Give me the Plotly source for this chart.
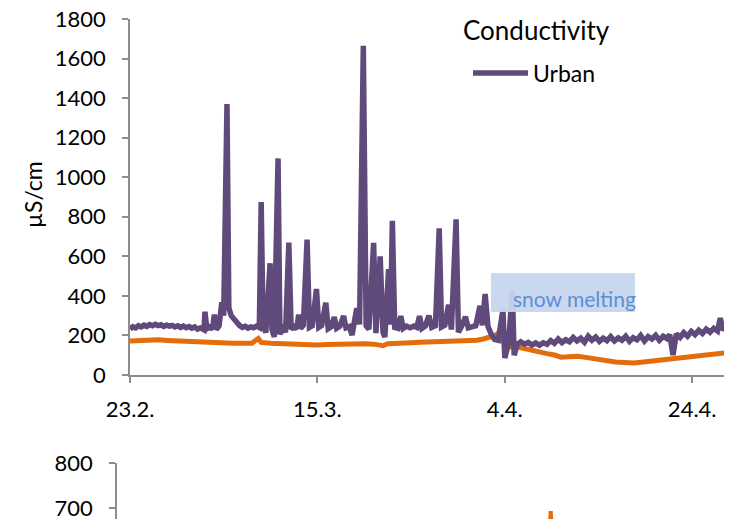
import pandas as pd
import plotly.graph_objects as go

START = pd.Timestamp("2013-02-23")

# Urban conductivity (days since 23.2., µS/cm)
urban_days = [0.0, 0.3, 0.6, 0.9, 1.2, 1.5, 1.8, 2.1, 2.4, 2.7, 3.0, 3.3, 3.6, 3.9, 4.2, 4.5, 4.8, 5.1,
              5.4, 5.7, 6.0, 6.3, 6.6, 6.9, 7.2, 7.5, 7.9, 8.0, 8.2, 8.5, 8.8, 9.0, 9.2, 9.5, 9.8, 10.0,
              10.35, 10.55, 10.8, 11.1, 11.4, 11.7, 12.0, 12.3, 12.6, 12.9, 13.2, 13.5, 13.8, 14.0, 14.2,
              14.5, 14.95, 15.15, 15.4, 15.8, 16.0, 16.3, 16.6, 16.95, 17.2, 17.5, 17.8, 18.0, 18.2, 18.5,
              18.9, 19.15, 19.45, 19.9, 20.15, 20.45, 20.9, 21.15, 21.5, 21.8, 22.05, 22.4, 22.8, 23.05,
              23.4, 23.7, 24.2, 24.5, 24.9, 25.2, 25.5, 26.0, 26.25, 26.7, 27.0, 27.2, 27.6, 27.8, 28.0,
              28.25, 28.6, 28.9, 29.15, 29.5, 29.9, 30.3, 30.6, 30.9, 31.15, 31.5, 31.9, 32.2, 32.6, 33.0,
              33.25, 33.6, 34.0, 34.3, 34.8, 35.05, 35.4, 35.8, 36.1, 36.5, 36.9, 37.35, 37.6, 37.9, 38.2,
              38.5, 38.9, 39.3, 39.8, 40.0, 40.4, 40.8, 41.0, 41.3, 41.7, 42.1, 42.5, 42.9, 43.3, 43.7,
              44.1, 44.5, 44.9, 45.3, 45.7, 46.1, 46.5, 46.9, 47.3, 47.7, 48.1, 48.5, 48.9, 49.3, 49.7,
              50.1, 50.5, 50.9, 51.3, 51.7, 52.1, 52.5, 52.9, 53.3, 53.7, 54.1, 54.5, 54.9, 55.3, 55.7,
              56.1, 56.5, 56.9, 57.3, 57.6, 57.95, 58.3, 58.7, 59.1, 59.5, 59.9, 60.3, 60.7, 61.1, 61.5,
              61.9, 62.3, 62.7, 63.0, 63.25, 63.5]
urban_vals = [232, 244, 238, 249, 243, 252, 246, 255, 249, 256, 250, 254, 246, 252, 247, 251, 243, 249,
              241, 247, 239, 245, 237, 243, 232, 238, 228, 320, 234, 243, 232, 305, 230, 248, 368, 300,
              1370, 340, 300, 280, 262, 250, 241, 246, 237, 243, 239, 247, 240, 875, 248,
              215, 565, 230, 192, 1095, 205, 256, 215, 670, 232, 245, 234, 305, 236, 252,
              685, 241, 249, 435, 241, 250, 365, 234, 245, 293, 236, 247, 298, 239,
              245, 202, 338, 256, 1665, 249, 232, 668, 212, 600, 216, 192, 535, 254, 780,
              241, 236, 298, 236, 247, 239, 248, 241, 298, 236, 247, 300, 241, 249, 742,
              243, 252, 355, 230, 787, 216, 247, 295, 238, 243, 249, 350, 251, 410, 246,
              212, 180, 175, 330, 86, 160, 430, 100, 154, 168, 156, 165, 152, 162, 150,
              163, 155, 174, 160, 182, 164, 178, 168, 190, 172, 186, 166, 196, 176, 192,
              170, 186, 174, 194, 172, 188, 176, 196, 170, 189, 178, 200, 172, 194, 182,
              200, 176, 196, 184, 204, 101, 208, 190, 214, 196, 220, 204, 226, 210, 232,
              216, 236, 222, 288, 228, 240]

# Second conductivity series (orange), days since 23.2.
rural_days = [0, 1, 2, 3, 4, 5, 6, 7, 8, 9, 10, 11, 12, 13, 13.7, 14.0, 15, 16, 17, 18, 19, 20, 21, 22,
              23, 24, 25, 26, 27, 27.5, 28, 29, 30, 31, 32, 33, 34, 35, 36, 37, 37.7, 38.4, 39.0, 39.3,
              39.6, 39.9, 40.2, 40.6, 41.5, 42.5, 43.5, 44.5, 45.3, 46.0, 46.8, 47.8, 48.8, 49.8, 50.8,
              51.8, 52.8, 53.8, 54.8, 55.8, 56.8, 57.8, 58.8, 59.8, 60.8, 61.8, 62.8, 63.5]
rural_vals = [172, 176, 180, 178, 175, 172, 170, 168, 166, 164, 162, 160, 160, 161, 185, 165, 160, 158,
              155, 153, 150, 152, 154, 156, 158, 160, 158, 156, 148, 158, 160, 163, 163, 165, 166, 167,
              168, 170, 172, 176, 182, 190, 200, 212, 185, 160, 172, 143, 140, 128, 118, 108, 101, 90,
              92, 95, 88, 80, 72, 66, 63, 61, 66, 72, 78, 82, 86, 90, 96, 102, 108, 112]

# Lower panel (orange series)
lower_days = [44.6, 45.3, 46.0]
lower_vals = [420, 693, 410]

tick_days = [0, 20, 40, 60]
tick_labels = ["23.2.", "15.3.", "4.4.", "24.4."]


def to_dates(days):
    return START + pd.to_timedelta(days, unit="D")


PURPLE = "#604a7b"
ORANGE = "#e46c0a"
AXIS = "#8c8c8c"
FONT = "Lato"
OFF = 8                 # page body margin
W, H = 732 - OFF, 519 - OFF


def px(x):              # screen x -> paper fraction
    return (x - OFF) / W


def py(y):              # screen y -> paper fraction
    return 1 - (y - OFF) / H


fig = go.Figure()
fig.add_trace(go.Scatter(x=to_dates(rural_days), y=rural_vals, mode="lines", name="Rural",
                         line=dict(color=ORANGE, width=5), showlegend=False,
                         xaxis="x", yaxis="y"))
fig.add_trace(go.Scatter(x=to_dates(urban_days), y=urban_vals, mode="lines", name="Urban",
                         line=dict(color=PURPLE, width=5.5), xaxis="x", yaxis="y"))
fig.add_trace(go.Scatter(x=to_dates(lower_days), y=lower_vals, mode="lines", name="Rural (lower)",
                         line=dict(color=ORANGE, width=4), showlegend=False,
                         xaxis="x2", yaxis="y2"))

common_axis = dict(showline=True, linecolor=AXIS, linewidth=1.5, ticks="outside", ticklen=6,
                   tickcolor=AXIS, tickwidth=1.5, showgrid=False, zeroline=False, automargin=False,
                   ticklabeloverflow="allow",
                   tickfont=dict(family=FONT, size=22, color="black"))

fig.update_layout(
    width=W, height=H,
    margin=dict(l=0, r=0, t=0, b=0, autoexpand=False),
    paper_bgcolor="white", plot_bgcolor="white",
    font=dict(family=FONT, color="black"),
    title=dict(text="Conductivity", x=px(463), xanchor="left", xref="container",
               y=py(31), yanchor="middle", yref="container",
               font=dict(family=FONT, size=26, color="black")),
    showlegend=True,
    legend=dict(x=px(468), xanchor="left", y=py(73), yanchor="middle",
                xref="container", yref="container", itemwidth=55,
                bgcolor="rgba(0,0,0,0)", font=dict(family=FONT, size=23, color="black")),
    xaxis=dict(type="date", domain=[px(130), px(725)], anchor="y",
               range=[to_dates([0])[0], to_dates([63.5])[0]],
               tickvals=list(to_dates(tick_days)), ticktext=tick_labels,
               ticklabelstandoff=8, **common_axis),
    yaxis=dict(domain=[py(375), py(19)], anchor="x", range=[0, 1800], dtick=200,
               ticklabelstandoff=12, **common_axis),
    xaxis2=dict(type="date", domain=[px(117), px(725)], anchor="y2",
                range=[to_dates([0])[0], to_dates([63.5])[0]], visible=False),
    yaxis2=dict(domain=[0, py(463)], anchor="x2", range=[675.6, 800], tickvals=[700, 800],
                ticklabelstandoff=12, **common_axis),
    shapes=[dict(type="rect", xref="paper", yref="paper",
                 x0=px(491), x1=px(635), y0=py(312), y1=py(273),
                 fillcolor="#c6d5ee", opacity=0.95, line=dict(width=0), layer="above")],
    annotations=[
        dict(text="µS/cm", textangle=-90, x=px(33), y=py(195), xref="paper", yref="paper",
             xanchor="center", yanchor="middle", showarrow=False,
             font=dict(family=FONT, size=23, color="black")),
        dict(text="snow melting", x=px(511), y=py(298), xref="paper", yref="paper",
             xanchor="left", yanchor="middle", showarrow=False,
             font=dict(family=FONT, size=21, color="#5b8fd6")),
    ],
)

fig.write_html("out.html")
